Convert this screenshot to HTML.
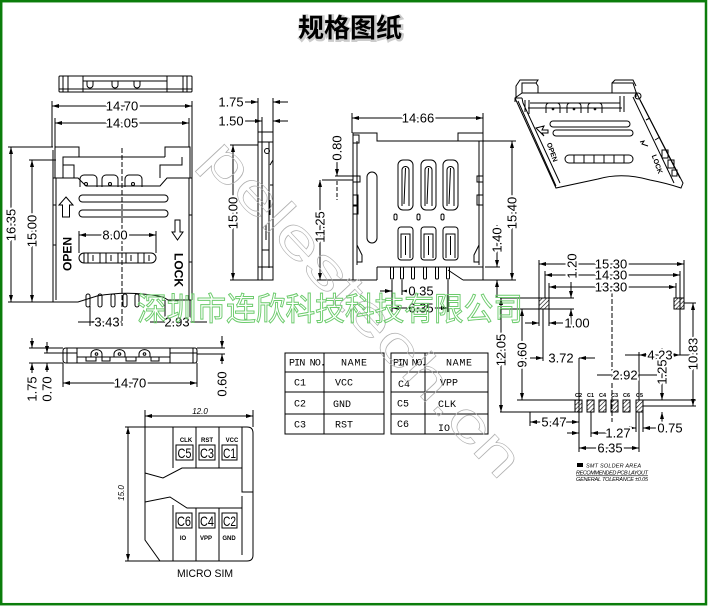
<!DOCTYPE html>
<html><head><meta charset="utf-8"><style>
html,body{margin:0;padding:0;background:#fff;}
svg{display:block}
.l{stroke:#000;stroke-width:1;fill:none}
.d{font-family:"Liberation Sans",sans-serif;font-size:13px;fill:#000;stroke:#fff;stroke-width:4;paint-order:stroke;stroke-linejoin:round}
.m{marker-start:url(#a);marker-end:url(#a)}
.e{marker-end:url(#a)}
.t{font-family:"Liberation Mono",monospace;font-size:10px;fill:#000}
.s{font-family:"Liberation Sans",sans-serif;fill:#000}
</style></head><body>
<svg width="708" height="606" viewBox="0 0 708 606" xmlns="http://www.w3.org/2000/svg">
<defs>
<marker id="a" markerUnits="userSpaceOnUse" markerWidth="7" markerHeight="4" refX="7" refY="2" orient="auto-start-reverse" viewBox="0 0 7 4"><path d="M0,0L7,2L0,4Z" fill="#000"/></marker>
<pattern id="h" width="3" height="3" patternUnits="userSpaceOnUse" patternTransform="rotate(45)"><line x1="0" y1="0" x2="0" y2="3" stroke="#000" stroke-width="1.2"/></pattern>
</defs>
<rect x="0" y="0" width="708" height="606" fill="#fff"/>

<!-- title -->
<text x="351" y="38" text-anchor="middle" font-family="Liberation Sans,Noto Sans CJK SC,sans-serif" font-size="26" font-weight="bold" fill="#bbb" stroke="#ccc" stroke-width="3">规格图纸</text>
<text x="350" y="37" text-anchor="middle" font-family="Liberation Sans,Noto Sans CJK SC,sans-serif" font-size="26" font-weight="bold" fill="#000">规格图纸</text>

<!-- ========== TOP-LEFT: top strip ========== -->
<g class="l">
<rect x="59" y="76" width="133" height="16" rx="1"/>
<path d="M63,76V92 M68,76V92 M83,76V92 M167,76V92 M183,76V92 M187,76V92 M83,81H167 M59,89H192"/>
<path d="M87,81v4a3,3 0 0 0 6,0v-4 M112,81v4a3,3 0 0 0 6,0v-4 M134,81v4a3,3 0 0 0 6,0v-4"/>
</g>

<!-- ========== TOP-LEFT: main body ========== -->
<g class="l">
<path d="M53,150V302 M56,178V300 M192,150V300 M189,178V300"/>
<path d="M55,178V147H79V157 M63,178V157H165 M165,157V147H190V178"/>
<rect x="63" y="165" width="11" height="13"/>
<path d="M160,178V165H182V157"/>
<path d="M53,178H78L86,186H160L167,178H192"/>
<path d="M80,187V179a4,4 0 0 1 4,-4h9a4,4 0 0 1 4,4V187 M102,187V179a4,4 0 0 1 4,-4h8a4,4 0 0 1 4,4V187 M125,187V179a4,4 0 0 1 4,-4h9a4,4 0 0 1 4,4V187"/>
<circle cx="86" cy="184" r="1.5"/><circle cx="110" cy="184" r="1.5"/><circle cx="133" cy="184" r="1.5"/>
<rect x="79" y="195" width="89" height="7" rx="3.5"/>
<rect x="79" y="210" width="89" height="7" rx="3.5"/>
<path d="M66,197L73,205H69.5V217H62.5V205H59Z"/>
<path d="M177.5,240L183,232H180V220H175V232H172Z"/>
<rect x="79" y="253" width="77" height="10" rx="5"/>
<path d="M84,253V263 M88,253V263 M93,255V261 M100,253V263 M106,253V263 M111,255V261 M118,253V263 M126,253V263 M131,255V261 M138,253V263 M144,253V263 M149,255V261"/>
<path d="M53,302H78L97,296Q130,290 163,297L168,300H192"/>
<path d="M53,205h3 M53,245h3 M189,215h3 M189,262h3"/>
</g>
<g class="l">
<rect x="86" y="294" width="4" height="13" rx="2"/><rect x="98" y="294" width="4" height="13" rx="2"/><rect x="111" y="294" width="4" height="13" rx="2"/><rect x="123" y="294" width="4" height="13" rx="2"/><rect x="135" y="294" width="4" height="13" rx="2"/>
</g>
<path d="M122,148V326" stroke="#000" stroke-width="1" stroke-dasharray="5,2" fill="none"/>
<text class="s" font-size="12" font-weight="bold" transform="translate(67,254) rotate(-90)" text-anchor="middle" y="4.5">OPEN</text>
<text class="s" font-size="12" font-weight="bold" transform="translate(179,270) rotate(90)" text-anchor="middle" y="4.5">LOCK</text>
<!-- dims -->
<g class="l">
<path d="M52,101V147 M192,101V150 M55,118V147 M189,118V147 M8,147H53 M8,302H78 M29,160H56 M79,231V253 M156,231V253 M90,306V326 M165,300V326 M190,300V326"/>
<path class="m" d="M52,106H192"/><path class="m" d="M55,123H189"/>
<path class="m" d="M11,147V302"/><path class="m" d="M32,160V302"/>
<path class="m" d="M79,235H156"/>
<path d="M78,322H90"/><path class="m" d="M90,322H122"/>
<path d="M150,322H165 M190,322H207"/><path class="m" d="M165,322H190"/>
</g>
<text class="d" x="122" y="110.5" text-anchor="middle">14.70</text>
<text class="d" x="122" y="127.5" text-anchor="middle">14.05</text>
<text class="d" transform="translate(11,225) rotate(-90)" text-anchor="middle" y="4.5">16.35</text>
<text class="d" transform="translate(32,231) rotate(-90)" text-anchor="middle" y="4.5">15.00</text>
<text class="d" x="115" y="239.5" text-anchor="middle">8.00</text>
<text class="d" x="107" y="326.5" text-anchor="middle">3.43</text>
<text class="d" x="177" y="326.5" text-anchor="middle">2.93</text>

<!-- ========== SIDE VIEW (middle) ========== -->
<g class="l">
<rect x="258" y="132" width="15" height="148"/>
<path d="M262,132V280 M269,142V268 M258,142H273 M258,267H273 M270,165L273,160 M270,185H273 M270,200V215 M266,225V240 M262,250H269"/>
<circle cx="267" cy="151" r="2.5"/>
<path d="M258,98V132 M273,98V132 M262,117V132 M230,145H258 M230,280H258"/>
<path class="e" d="M245,102H258"/><path class="e" d="M288,102H273"/>
<path class="e" d="M245,121H262"/><path class="e" d="M288,121H273"/>
<path class="m" d="M233,145V280"/>
</g>
<text class="d" x="231" y="106.5" text-anchor="middle">1.75</text>
<text class="d" x="231" y="125.5" text-anchor="middle">1.50</text>
<text class="d" transform="translate(233,213) rotate(-90)" text-anchor="middle" y="4.5">15.00</text>

<!-- ========== FRONT VIEW (center) ========== -->
<g class="l">
<path d="M353,280V133H377V141H458V133H483V280"/>
<path d="M357,141V265 M479,141V265"/>
<rect x="353" y="135" width="6" height="8"/>
<rect x="353" y="176" width="7" height="6"/>
<rect x="353" y="195" width="5" height="10"/><rect x="353" y="206" width="5" height="8"/>
<rect x="477" y="176" width="6" height="6"/><rect x="477" y="195" width="6" height="10"/>
<path d="M357,245L362,255V262H357 M479,245L474,255V262H479"/>
<rect x="367" y="172" width="10" height="71" rx="5"/>
<rect x="398" y="160" width="15" height="50" rx="5"/><rect x="421" y="160" width="15" height="50" rx="5"/><rect x="443" y="160" width="15" height="50" rx="5"/>
<path d="M402,206V170a3.5,3.5 0 0 1 7,0V206 M425,206V170a3.5,3.5 0 0 1 7,0V206 M447,206V170a3.5,3.5 0 0 1 7,0V206"/>
<path d="M405.5,168L404,204 M428.5,168L427,204 M450.5,168L449,204"/>
<rect x="394" y="214" width="3" height="6" rx="1.5"/><rect x="417" y="214" width="3" height="6" rx="1.5"/><rect x="441" y="214" width="3" height="6" rx="1.5"/>
<rect x="398" y="227" width="15" height="33" rx="3"/><rect x="421" y="227" width="15" height="33" rx="3"/><rect x="443" y="227" width="15" height="33" rx="3"/>
<path d="M401,258V234h9V258 M424,258V234h9V258 M446,258V234h9V258 M405.5,236V255 M428.5,236V255 M450.5,236V255"/>
<path d="M377,267H483 M377,267V280 M353,280H377 M463,280H483 M448,270L463,280"/>
<rect x="390.5" y="267" width="3" height="12" rx="1"/><rect x="400.5" y="267" width="3" height="12" rx="1"/><rect x="411.5" y="267" width="3" height="12" rx="1"/><rect x="423.5" y="267" width="3" height="12" rx="1"/><rect x="435.5" y="267" width="3" height="12" rx="1"/><rect x="446.5" y="267" width="3" height="12" rx="1"/>
<!-- dims -->
<path d="M352,113V133 M483,113V133 M458,141H516 M483,280H516 M485,267H500 M335,176H353 M322,180H353 M317,280H353 M392,280V312 M448,280V312 M402,280V295"/>
<path class="m" d="M352,118H483"/>
<path class="m" d="M512,141V280"/>
<path class="e" d="M497,225V267"/><path class="e" d="M497,298V280"/>
<path class="e" d="M337,160V176"/>
<path class="m" d="M320,180V280"/>
<path class="e" d="M380,291H392"/><path class="e" d="M412,291H402"/>
<path class="m" d="M392,308H448"/>
</g>
<path d="M337,181V200" stroke="#000" stroke-dasharray="4,2" fill="none"/>
<text class="d" x="418" y="122.5" text-anchor="middle">14.66</text>
<text class="d" transform="translate(512,213) rotate(-90)" text-anchor="middle" y="4.5">15.40</text>
<text class="d" transform="translate(497,240) rotate(-90)" text-anchor="middle" y="4.5">1.40</text>
<text class="d" transform="translate(337,148) rotate(-90)" text-anchor="middle" y="4.5">0.80</text>
<text class="d" transform="translate(320,227) rotate(-90)" text-anchor="middle" y="4.5">11.25</text>
<text class="d" x="421" y="295.5" text-anchor="middle">0.35</text>
<text class="d" x="421" y="312.5" text-anchor="middle">6.35</text>

<!-- ========== 3D VIEW ========== -->
<g class="l">
<path d="M515,98L522,93V83H536L538,86V93H612V83H633L636,92L683,183L681,188Q666,183 650,180Q622,172 598,179L556,188Z"/>
<path d="M522,93H538 M515,98L522,98 M515,98L515,102 M522,98L523,103L560,183 M518,101L556,186 M633,97L674,183 M640,100L680,178 M612,93H636 M636,92V97 M536,83L538,80H520L516,86V97 M612,83L615,80H633L636,86"/>
<path d="M530,103H620 M528,108H622 M525,100V112 M529,100V114 M620,96V112 M624,96V112"/>
<path d="M546,113V106a3,3 0 0 1 3,-3h8a3,3 0 0 1 3,3V113 M567,113V106a3,3 0 0 1 3,-3h8a3,3 0 0 1 3,3V113 M588,113V106a3,3 0 0 1 3,-3h8a3,3 0 0 1 3,3V113"/>
<circle cx="553" cy="109" r="0.8"/><circle cx="574" cy="109" r="0.8"/><circle cx="595" cy="109" r="0.8"/>
<rect x="550" y="121" width="80" height="6" rx="3"/>
<rect x="553" y="130" width="80" height="6" rx="3"/>
<rect x="565" y="155" width="68" height="8" rx="4"/>
<path d="M574,155V163 M584,155V163 M594,155V163 M604,155V163 M614,155V163 M624,155V163"/>
<circle cx="638" cy="96" r="3"/>
<path d="M662,150h6v8h-6z M668,160h6v8h-6z M672,170h5v6h-5z M655,140L660,137 M646,120L650,118"/>
<path d="M536,128L544,126L542,130H548V133H542L544,136Z"/>
<path d="M648,146L642,144L644,141L640,142"/>
</g>
<text class="s" font-size="7" font-weight="bold" transform="translate(550,153) rotate(70)" text-anchor="middle">OPEN</text>
<text class="s" font-size="7" font-weight="bold" transform="translate(655,165) rotate(70)" text-anchor="middle">LOCK</text>

<!-- ========== PCB LAYOUT ========== -->
<g class="l">
<rect x="539" y="298" width="10" height="11" fill="url(#h)"/>
<rect x="674" y="298" width="10" height="11" fill="url(#h)"/>
<rect x="575" y="400" width="7" height="12" fill="url(#h)"/>
<rect x="587" y="400" width="7" height="12" fill="url(#h)"/>
<rect x="599" y="400" width="7" height="12" fill="url(#h)"/>
<rect x="611" y="400" width="7" height="12" fill="url(#h)"/>
<rect x="623" y="400" width="7" height="12" fill="url(#h)"/>
<rect x="636" y="400" width="7" height="12" fill="url(#h)"/>
<!-- ext lines -->
<path d="M539,260V298 M684,260V298 M545,271V298 M680,271V355 M549,283V326 M676,283V298 M539,309V326 M543,309V361 M500,298H539 M500,309H539 M549,298H574 M549,309H574 M684,303H696 M517,400H575 M500,412H575 M643,400H696 M643,406H696 M579,358V452 M639,352V400 M591,412V437 M636,412V432 M643,412V432 M639,412V452 M530,412V426"/>
<path class="m" d="M539,264H684"/>
<path class="m" d="M545,275H680"/>
<path class="m" d="M549,287H676"/>
<path class="e" d="M571,282V298"/><path class="e" d="M571,325V309"/>
<path class="e" d="M525,323H539"/><path class="e" d="M563,323H549"/>
<path class="m" d="M522,309V400"/>
<path class="m" d="M501,298V412"/>
<path class="e" d="M530,358H543"/><path class="e" d="M595,358H579"/>
<path d="M625,355H639 M680,355H693"/><path class="m" d="M639,355H680"/>
<path class="m" d="M693,303V406"/>
<path d="M597,375H612 M639,375H657"/><path class="m" d="M612,375H639"/>
<path class="e" d="M662,348V400"/><path class="e" d="M662,428V412"/>
<path class="m" d="M530,422H579"/>
<path class="e" d="M567,433H579"/><path class="e" d="M607,433H591"/>
<path class="e" d="M622,428H636"/><path class="e" d="M658,428H643"/>
<path class="m" d="M579,448H639"/>
</g>
<path d="M612,285V422" stroke="#000" stroke-dasharray="5,2" fill="none"/>
<text class="d" x="611" y="268.5" text-anchor="middle">15.30</text>
<text class="d" x="611" y="279.5" text-anchor="middle">14.30</text>
<text class="d" x="611" y="291.5" text-anchor="middle">13.30</text>
<text class="d" transform="translate(572,266) rotate(-90)" text-anchor="middle" y="4.5">1.20</text>
<text class="d" x="577" y="327.5" text-anchor="middle">1.00</text>
<text class="d" transform="translate(522,355) rotate(-90)" text-anchor="middle" y="4.5">9.60</text>
<text class="d" transform="translate(501,350) rotate(-90)" text-anchor="middle" y="4.5">12.05</text>
<text class="d" x="561" y="362.5" text-anchor="middle">3.72</text>
<text class="d" x="660" y="359.5" text-anchor="middle">4.23</text>
<text class="d" transform="translate(693,354) rotate(-90)" text-anchor="middle" y="4.5">10.83</text>
<text class="d" x="625" y="379.5" text-anchor="middle">2.92</text>
<text class="d" transform="translate(662,372) rotate(-90)" text-anchor="middle" y="4.5">1.25</text>
<text class="d" x="554" y="426.5" text-anchor="middle">5.47</text>
<text class="d" x="618" y="437.5" text-anchor="middle">1.27</text>
<text class="d" x="670" y="432.5" text-anchor="middle">0.75</text>
<text class="d" x="610" y="452.5" text-anchor="middle">6.35</text>
<g class="s" font-size="5.5" font-weight="bold" text-anchor="middle">
<text x="578.5" y="397">C2</text><text x="590.5" y="397">C1</text><text x="602.5" y="397">C4</text><text x="614.5" y="397">C3</text><text x="626.5" y="397">C6</text><text x="639.5" y="397">C5</text>
</g>
<rect x="577" y="463" width="6" height="4" fill="#000"/>
<g class="s" font-size="5.5" font-style="italic">
<text x="586" y="467.5" textLength="55">SMT SOLDER AREA</text>
<text x="576" y="474.5" textLength="72" text-decoration="underline">RECOMMENDED PCB LAYOUT</text>
<text x="576" y="481" textLength="72">GENERAL TOLERANCE ±0.05</text>
</g>

<!-- ========== BOTTOM-LEFT SIDE VIEW ========== -->
<g class="l">
<path d="M66,348H195Q197,348 197,351V360Q197,363 195,363H66Q63,363 63,360V351Q63,348 66,348Z"/>
<path d="M63,353H77 M170,353H197 M67,348V363 M77,348V363 M170,348V363 M193,348V363 M77,357H170"/>
<path d="M91,357V354a5,4 0 0 1 11,0V357 M114,357V354a5,4 0 0 1 11,0V357 M139,357V354a5,4 0 0 1 11,0V357"/>
<path d="M86,357V361H96V357 M102,357V361H110V357 M126,357V361H136V357 M151,357V361H159V357"/>
<circle cx="96.5" cy="354" r="1.3"/><circle cx="119.5" cy="354" r="1.3"/><circle cx="144.5" cy="354" r="1.3"/>
<path d="M29,348H63 M44,353H63 M29,363H63 M197,348H225 M197,354H225 M63,363V387 M197,363V387"/>
<path class="e" d="M32,338V348"/><path class="e" d="M32,373V363"/>
<path class="e" d="M47,342V353"/><path class="e" d="M47,372V363"/>
<path class="e" d="M222,336V348"/><path class="e" d="M222,364V354"/>
<path class="m" d="M63,383H197"/>
</g>
<text class="d" transform="translate(32,389) rotate(-90)" text-anchor="middle" y="4.5">1.75</text>
<text class="d" transform="translate(47,389) rotate(-90)" text-anchor="middle" y="4.5">0.70</text>
<text class="d" transform="translate(222,384) rotate(-90)" text-anchor="middle" y="4.5">0.60</text>
<text class="d" x="130" y="387.5" text-anchor="middle">14.70</text>

<!-- ========== MICRO SIM ========== -->
<g class="l">
<path d="M145,427H247Q253,427 253,433V555Q253,561 247,561H160L145,540Z"/>
<path d="M242,427V492H253 M242,496V555"/>
<path d="M173,427V468 M196,427V468 M219,427V468 M145,473L163,478L182,468H242"/>
<path d="M145,502L170,497L187,508H242 M173,505V561 M196,508V561 M219,508V561"/>
<rect x="176" y="445" width="17" height="15"/><rect x="199" y="445" width="16" height="15"/><rect x="222" y="445" width="15" height="15"/>
<rect x="176" y="513" width="16" height="15"/><rect x="199" y="513" width="16" height="15"/><rect x="222" y="513" width="15" height="15"/>
<path d="M145,410V427 M253,410V427 M125,427H145 M125,561H160"/>
<path class="m" d="M145,416H253"/>
<path class="m" d="M128,427V561"/>
</g>
<g class="s" font-size="14" text-anchor="middle">
<text x="184.5" y="458" textLength="14" lengthAdjust="spacingAndGlyphs">C5</text>
<text x="207" y="458" textLength="14" lengthAdjust="spacingAndGlyphs">C3</text>
<text x="229.5" y="458" textLength="13" lengthAdjust="spacingAndGlyphs">C1</text>
<text x="184" y="526" textLength="14" lengthAdjust="spacingAndGlyphs">C6</text>
<text x="207" y="526" textLength="14" lengthAdjust="spacingAndGlyphs">C4</text>
<text x="229.5" y="526" textLength="13" lengthAdjust="spacingAndGlyphs">C2</text>
</g>
<g class="s" font-size="6" font-weight="bold" text-anchor="middle">
<text x="186" y="442">CLK</text><text x="207" y="442">RST</text><text x="232" y="442">VCC</text>
<text x="183" y="540">IO</text><text x="206" y="540">VPP</text><text x="229" y="540">GND</text>
</g>
<text class="s" x="200" y="414" font-size="8" font-style="italic" text-anchor="middle">12.0</text>
<text class="s" transform="translate(124,493) rotate(-90)" font-size="8" font-style="italic" text-anchor="middle">15.0</text>
<text class="s" x="205" y="577" font-size="11" text-anchor="middle" textLength="56" lengthAdjust="spacingAndGlyphs">MICRO SIM</text>

<!-- ========== TABLE ========== -->
<g class="l">
<rect x="285" y="353" width="99" height="81"/>
<rect x="391" y="353" width="97" height="81"/>
<path d="M285,372H384 M285,392H384 M285,414H384 M324,353V434 M391,372H488 M391,392H488 M391,414H488 M425,353V434"/>
</g>
<g class="t">
<text x="289" y="365.5" textLength="37">PIN NO.</text>
<text x="341" y="365.5" textLength="26">NAME</text>
<text x="393" y="365.5" textLength="34">PIN NO.</text>
<text x="446" y="365.5" textLength="26">NAME</text>
<text x="294" y="385.5">C1</text><text x="335" y="385.5">VCC</text>
<text x="398" y="387">C4</text><text x="440" y="385.5">VPP</text>
<text x="294" y="406.5">C2</text><text x="333" y="407">GND</text>
<text x="397" y="406.5">C5</text><text x="438" y="407">CLK</text>
<text x="294" y="427.5">C3</text><text x="335" y="427.5">RST</text>
<text x="397" y="427">C6</text><text x="438" y="431">IO</text>
</g>

<!-- ========== WATERMARKS ========== -->
<text transform="translate(200,160) rotate(47)" font-family="Liberation Sans,sans-serif" font-size="54" fill="none" stroke="#b0b0b0" stroke-width="0.6" textLength="440" lengthAdjust="spacingAndGlyphs">pelestech.cn</text>
<text x="137" y="320" font-family="Liberation Sans,Noto Sans CJK SC,sans-serif" font-size="32" fill="none" stroke="#6ccb6c" stroke-width="1" textLength="386" lengthAdjust="spacingAndGlyphs">深圳市连欣科技科技有限公司</text>

<!-- frame -->
<rect x="1.2" y="1.2" width="704.8" height="603" fill="none" stroke="#0b7d0b" stroke-width="2.5"/>
</svg>
</body></html>
